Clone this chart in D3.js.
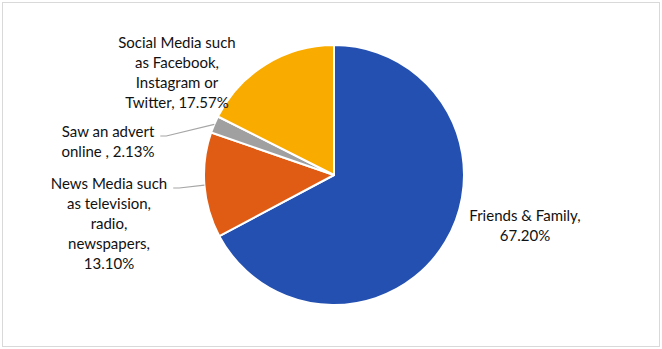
<!DOCTYPE html>
<html>
<head>
<meta charset="utf-8">
<script src="https://cdn.jsdelivr.net/npm/d3@7"></script>
<style>
  body { margin: 0; background: #fff; }
  svg { display: block; }
</style>
</head>
<body>
<div id="chart"></div>
<script>
// data
var categories = ["Friends & Family", "News Media", "Saw an advert", "Social Media"];
var values = [67.20, 13.10, 2.13, 17.57];
// label text, the last part gets the percentage appended
var labelLines = [
    ["Friends & Family,", ""],
    ["News Media such", "as television,", "radio,", "newspapers,", ""],
    ["Saw an advert", "online , "],
    ["Social Media such", "as Facebook,", "Instagram or", "Twitter, "]
];
var colors = ["#2350b1", "#e05c14", "#a0a0a0", "#f9ab00"];

var width = 662,
    height = 349,
    radius = 130,
    cx = 334,
    cy = 175;

// label placement (centre x, first line y), and whether a leader line is drawn
var labelLayout = [
    { x: 525, y: 216, leader: false },
    { x: 109, y: 184, leader: true },
    { x: 108, y: 132, leader: true },
    { x: 177, y: 43,  leader: false }
];
var lineHeight = 20;

var svg = d3.select("#chart").append("svg")
    .attr("width", width)
    .attr("height", height);

// outer frame
svg.append("rect")
    .attr("x", 2.5)
    .attr("y", 2.5)
    .attr("width", width - 5)
    .attr("height", height - 5)
    .attr("fill", "#fff")
    .attr("stroke", "#d9d9d9");

var pie = d3.pie()
    .sort(null)
    .value(function(d) { return d; });

var arc = d3.arc()
    .outerRadius(radius)
    .innerRadius(0);

var arcs = pie(values);

var g = svg.append("g")
    .attr("transform", "translate(" + cx + "," + cy + ")");

g.selectAll("path")
    .data(arcs)
    .enter().append("path")
    .attr("d", arc)
    .attr("fill", function(d, i) { return colors[i]; })
    .attr("stroke", "#fff")
    .attr("stroke-width", 2)
    .attr("stroke-linejoin", "round");

// labels, then leader lines from the label to the slice edge at mid angle
arcs.forEach(function(d, i) {
    var lay = labelLayout[i];
    var lines = labelLines[i].slice();
    lines[lines.length - 1] += values[i].toFixed(2) + "%";
    var t = svg.append("text")
        .attr("x", lay.x)
        .attr("y", lay.y)
        .attr("text-anchor", "middle")
        .attr("font-family", "Lato, 'Open Sans', sans-serif")
        .attr("font-size", "15px")
        .attr("fill", "#111");
    var first;
    lines.forEach(function(l, k) {
        var sp = t.append("tspan")
            .attr("x", lay.x)
            .attr("y", lay.y + k * lineHeight)
            .attr("dy", "0.35em")
            .text(l);
        if(k == 0) first = sp;
    });

    if(!lay.leader) return;
    var w = first.node().getComputedTextLength();
    var mid = (d.startAngle + d.endAngle) / 2;
    var ex = cx + Math.sin(mid) * radius;
    var ey = cy - Math.cos(mid) * radius;
    var sx = lay.x + w / 2 + 6;
    var sy = lay.y + 4;
    svg.append("polyline")
        .attr("points", [[sx, sy], [sx + 6, sy], [ex, ey]].map(function(p) { return p.join(","); }).join(" "))
        .attr("fill", "none")
        .attr("stroke", "#a6a6a6")
        .attr("stroke-width", 1.2);
});
</script>
</body>
</html>
